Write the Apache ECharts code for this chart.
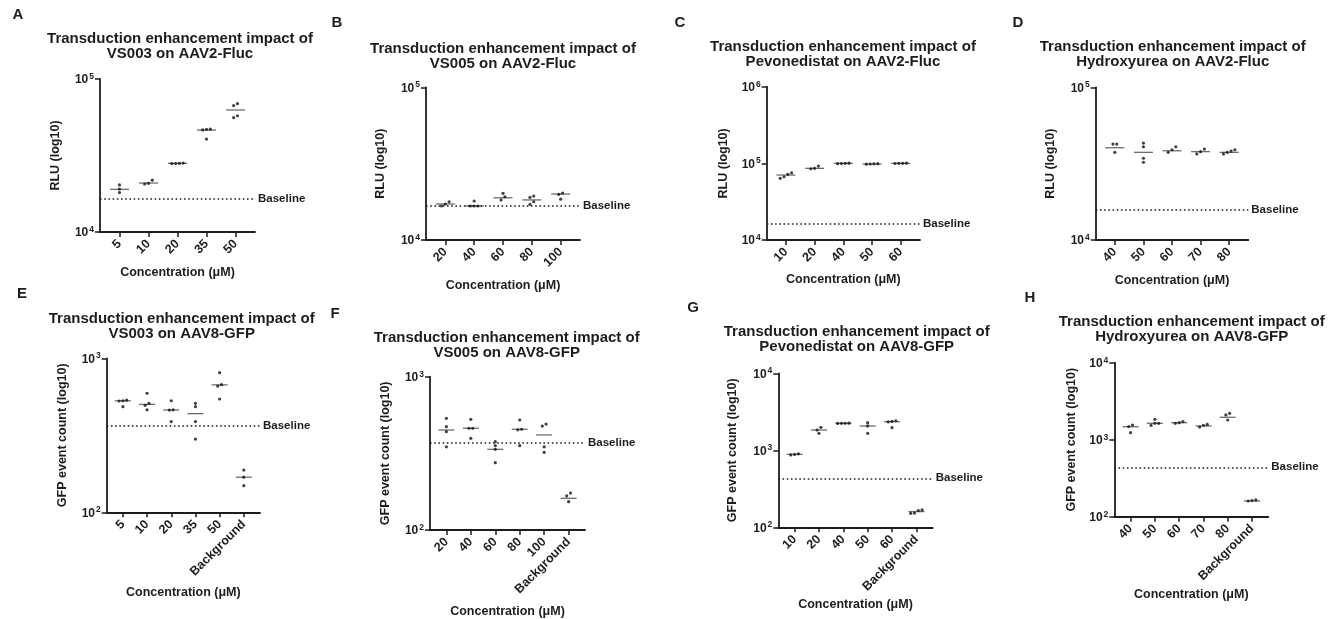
<!DOCTYPE html>
<html>
<head>
<meta charset="utf-8">
<script src="https://cdn.jsdelivr.net/npm/echarts@6/dist/echarts.min.js"></script>
<style>
  html, body { margin: 0; padding: 0; background: #ffffff; }
  #chart { width: 1341px; height: 619px; }
</style>
</head>
<body>
<div id="chart"></div>
<script>
// ---- Panel A: VS003 on AAV2-Fluc (RLU) ----
const catsA = ['5', '10', '20', '35', '50'];
const repsA = [[20300, 19100, 18100], [21800, 20800, 20600], [28000, 28200, 28100, 28000], [46500, 46800, 47000, 40500], [69000, 67000, 57500, 56000]];
const meansA = [19000, 20900, 28100, 46400, 62700];
const baselineA = 16400;

// ---- Panel B: VS005 on AAV2-Fluc (RLU) ----
const catsB = ['20', '40', '60', '80', '100'];
const repsB = [[17800, 17200, 16700], [18000, 16700, 16700, 16700], [20200, 19200, 18300], [19400, 19000, 17800, 17100], [20300, 19900, 18500]];
const meansB = [17200, 16700, 18900, 18300, 20000];
const baselineB = 16700;

// ---- Panel C: Pevonedistat on AAV2-Fluc (RLU) ----
const catsC = ['10', '20', '40', '50', '60'];
const repsC = [[75400, 72000, 66900, 63700], [92200, 86000, 85000], [99500, 100000, 100500, 99000], [98500, 97500, 99000, 98000], [100000, 100500, 99500, 100200]];
const meansC = [70400, 86100, 100000, 98000, 100000];
const baselineC = 16500;

// ---- Panel D: Hydroxyurea on AAV2-Fluc (RLU) ----
const catsD = ['40', '50', '60', '70', '80'];
const repsD = [[42500, 42500, 37500], [43100, 40800, 34300, 32300], [40800, 39000, 37500], [39400, 37900, 36600], [39000, 38200, 36600, 37500]];
const meansD = [40200, 37500, 38400, 37900, 37500];
const baselineD = 15700;

// ---- Panel E: VS003 on AAV8-GFP (GFP events) ----
const catsE = ['5', '10', '20', '35', '50', 'Background'];
const repsE = [[530, 535, 528, 485], [593, 510, 495, 463], [530, 463, 461, 388], [510, 485, 388, 299], [807, 674, 660, 544], [188, 169, 149]];
const meansE = [530, 502, 462, 437, 672, 169];
const baselineE = 367;

// ---- Panel F: VS005 on AAV8-GFP (GFP events) ----
const catsF = ['20', '40', '60', '80', '100', 'Background'];
const repsF = [[535, 472, 438, 349], [527, 461, 461, 396], [377, 355, 336, 275], [522, 454, 450, 355], [491, 476, 349, 321], [174, 167, 153]];
const meansF = [449, 461, 336, 454, 417, 161];
const baselineF = 371;

// ---- Panel G: Pevonedistat on AAV8-GFP (GFP events) ----
const catsG = ['10', '20', '40', '50', '60', 'Background'];
const repsG = [[900, 885, 870], [1990, 1834, 1663], [2250, 2240, 2245, 2235], [2283, 2070, 1663], [2420, 2380, 2340, 1966], [168, 165, 153, 152]];
const meansG = [887, 1834, 2243, 2069, 2353, 160];
const baselineG = 433;

// ---- Panel H: Hydroxyurea on AAV8-GFP (GFP events) ----
const catsH = ['40', '50', '60', '70', '80', 'Background'];
const repsH = [[1552, 1480, 1233], [1841, 1633, 1633, 1538], [1720, 1663, 1630], [1580, 1540, 1460], [2203, 2100, 1803], [165, 160, 162]];
const meansH = [1475, 1633, 1663, 1507, 1954, 160];
const baselineH = 438;

const TITLE_HEAD = 'Transduction enhancement impact of';
const X_NAME = 'Concentration (\u03bcM)';

const FONT = '"Liberation Sans", Arial, Helvetica, sans-serif';
const INK = '#1d1d1d';
const MEAN_INK = '#4a4a4a';

// Layout of each panel: plot box, title anchor, letter anchor, axis-name gaps.
const panels = [
  { letter: 'A', sub: 'VS003 on AAV2-Fluc', yName: 'RLU (log10)', cats: catsA, reps: repsA, means: meansA, baseline: baselineA, yMin: 1e4, yMax: 1e5,
    box: [100, 79, 155, 153], titleAt: [180, 31], letterAt: [18, 7], xGap: 34, yGap: 38, meanW: 19 },
  { letter: 'B', sub: 'VS005 on AAV2-Fluc', yName: 'RLU (log10)', cats: catsB, reps: repsB, means: meansB, baseline: baselineB, yMin: 1e4, yMax: 1e5,
    box: [426, 87.3, 154, 152.7], titleAt: [503, 41], letterAt: [337, 15], xGap: 39, yGap: 39, meanW: 19 },
  { letter: 'C', sub: 'Pevonedistat on AAV2-Fluc', yName: 'RLU (log10)', cats: catsC, reps: repsC, means: meansC, baseline: baselineC, yMin: 1e4, yMax: 1e6,
    box: [766.7, 86.7, 153.3, 153.3], titleAt: [843, 39], letterAt: [680, 15], xGap: 33, yGap: 37, meanW: 19 },
  { letter: 'D', sub: 'Hydroxyurea on AAV2-Fluc', yName: 'RLU (log10)', cats: catsD, reps: repsD, means: meansD, baseline: baselineD, yMin: 1e4, yMax: 1e5,
    box: [1095.7, 87.3, 152.6, 152.7], titleAt: [1172.7, 39], letterAt: [1018, 15], xGap: 34, yGap: 39, meanW: 19 },
  { letter: 'E', sub: 'VS003 on AAV8-GFP', yName: 'GFP event count (log10)', cats: catsE, reps: repsE, means: meansE, baseline: baselineE, yMin: 1e2, yMax: 1e3,
    box: [106.7, 358.3, 153.3, 154], titleAt: [181.7, 311], letterAt: [22, 286], xGap: 74, yGap: 38, meanW: 16 },
  { letter: 'F', sub: 'VS005 on AAV8-GFP', yName: 'GFP event count (log10)', cats: catsF, reps: repsF, means: meansF, baseline: baselineF, yMin: 1e2, yMax: 1e3,
    box: [430, 376.7, 155, 153.3], titleAt: [506.7, 330], letterAt: [335, 306], xGap: 75, yGap: 38, meanW: 16 },
  { letter: 'G', sub: 'Pevonedistat on AAV8-GFP', yName: 'GFP event count (log10)', cats: catsG, reps: repsG, means: meansG, baseline: baselineG, yMin: 1e2, yMax: 1e4,
    box: [778.3, 373.3, 154.4, 154], titleAt: [856.7, 324], letterAt: [693, 300], xGap: 71, yGap: 39, meanW: 16 },
  { letter: 'H', sub: 'Hydroxyurea on AAV8-GFP', yName: 'GFP event count (log10)', cats: catsH, reps: repsH, means: meansH, baseline: baselineH, yMin: 1e2, yMax: 1e4,
    box: [1114.3, 362.7, 154, 154], titleAt: [1191.7, 314], letterAt: [1030, 290], xGap: 71, yGap: 36, meanW: 16 }
];

// Horizontal spread (px) for replicates that would overlap vertically.
function spreadOffsets(vals, pxPerDecade, step) {
  const order = vals.map((v, i) => i).sort((a, b) => vals[a] - vals[b]);
  const out = new Array(vals.length).fill(0);
  let cluster = [order[0]];
  const flush = () => {
    const k = cluster.length;
    cluster.forEach((id, j) => { out[id] = (j - (k - 1) / 2) * step; });
  };
  for (let j = 1; j < order.length; j++) {
    const prev = vals[cluster[cluster.length - 1]];
    const d = (Math.log10(vals[order[j]]) - Math.log10(prev)) * pxPerDecade;
    if (d < 3.2) cluster.push(order[j]);
    else { flush(); cluster = [order[j]]; }
  }
  flush();
  return out;
}

const boldText = { fontFamily: FONT, fontWeight: 'bold', color: INK };
const axisLine = { show: true, onZero: false, lineStyle: { color: INK, width: 1.8 } };
const axisTickStyle = { color: INK, width: 1.5 };

const grid = [], xAxis = [], yAxis = [], series = [], title = [];

panels.forEach((p, i) => {
  const n = p.cats.length;
  const idx = p.cats.map((c, k) => k);
  const [left, top, width, height] = p.box;
  grid.push({ left, top, width, height, containLabel: false });

  title.push({
    text: TITLE_HEAD + '\n' + p.sub, left: p.titleAt[0], top: p.titleAt[1], textAlign: 'center', padding: 0,
    textStyle: { fontFamily: FONT, fontWeight: 'bold', fontSize: 15, lineHeight: 15, color: INK }
  });
  title.push({
    text: p.letter, left: p.letterAt[0], top: p.letterAt[1], textAlign: 'center', padding: 0,
    textStyle: { fontFamily: FONT, fontWeight: 'bold', fontSize: 15, color: INK }
  });

  xAxis.push({
    gridIndex: i, type: 'value', min: -0.67, max: n - 0.33,
    axisLine, splitLine: { show: false },
    axisTick: { show: true, customValues: idx, length: 5, lineStyle: axisTickStyle },
    axisLabel: { customValues: idx, formatter: v => p.cats[Math.round(v)], rotate: 45, margin: 10, fontSize: 12.5, ...boldText },
    name: X_NAME, nameLocation: 'middle', nameGap: p.xGap,
    nameTextStyle: { fontSize: 12.5, ...boldText }
  });

  yAxis.push({
    gridIndex: i, type: 'log', logBase: 10, min: p.yMin, max: p.yMax,
    axisLine, splitLine: { show: false }, minorTick: { show: false },
    axisTick: { show: true, length: 5, lineStyle: axisTickStyle },
    axisLabel: {
      margin: 6,
      formatter: v => '{b|10}{s|' + Math.round(Math.log10(v)) + '}',
      rich: {
        b: { fontSize: 12, lineHeight: 14, verticalAlign: 'bottom', ...boldText },
        s: { fontSize: 8.5, lineHeight: 8, verticalAlign: 'top', padding: [0, 0, 0, 1], ...boldText }
      }
    },
    name: p.yName, nameLocation: 'middle', nameGap: p.yGap,
    nameTextStyle: { fontSize: 12.5, ...boldText }
  });

  const pxPerDecade = height / Math.log10(p.yMax / p.yMin);
  const dots = [];
  p.reps.forEach((group, k) => {
    const offs = spreadOffsets(group, pxPerDecade, 3.8);
    group.forEach((v, j) => dots.push({ value: [k, v], symbolOffset: [offs[j], 0] }));
  });

  series.push({
    type: 'scatter', xAxisIndex: i, yAxisIndex: i, z: 2,
    symbol: 'rect', symbolSize: [p.meanW, 1.3],
    itemStyle: { color: MEAN_INK },
    data: p.means.map((m, k) => [k, m]),
    silent: true,
    markLine: {
      silent: true, symbol: ['none', 'none'], animation: false,
      lineStyle: { type: [1.6, 2.6], width: 1.6, color: INK },
      label: { show: true, position: 'end', distance: 3, formatter: 'Baseline', fontSize: 11.5, ...boldText },
      data: [{ yAxis: p.baseline }]
    }
  });
  series.push({
    type: 'scatter', xAxisIndex: i, yAxisIndex: i, z: 3,
    symbol: 'circle', symbolSize: 3.2,
    itemStyle: { color: '#111111' },
    data: dots,
    silent: true
  });
});

const chart = echarts.init(document.getElementById('chart'), null, { renderer: 'canvas' });
chart.setOption({
  backgroundColor: '#ffffff',
  animation: false,
  title, grid, xAxis, yAxis, series
});
</script>
</body>
</html>
